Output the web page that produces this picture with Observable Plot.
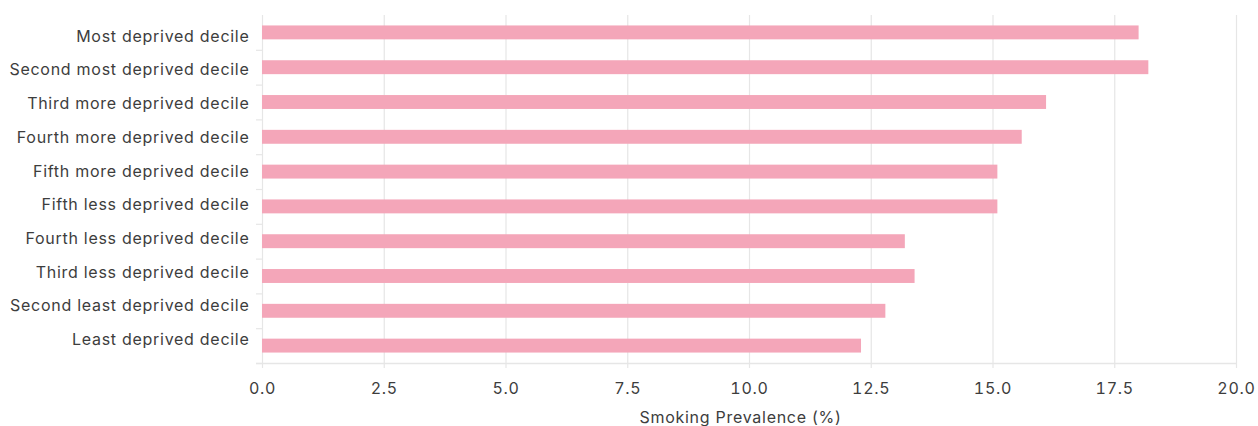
<!DOCTYPE html>
<html>
<head>
<meta charset="utf-8">
<script src="https://cdn.jsdelivr.net/npm/d3@7"></script>
<script src="https://cdn.jsdelivr.net/npm/@observablehq/plot@0.6"></script>
<style>
  html, body { margin: 0; padding: 0; background: #fff; }
  #chart { position: relative; width: 1258px; height: 426px; }
  #chart svg { position: absolute; left: 0; top: 0; }
  svg text { letter-spacing: 0.72px; }
</style>
</head>
<body>
<div id="chart"></div>
<script>
const categories = [
  "Most deprived decile",
  "Second most deprived decile",
  "Third more deprived decile",
  "Fourth more deprived decile",
  "Fifth more deprived decile",
  "Fifth less deprived decile",
  "Fourth less deprived decile",
  "Third less deprived decile",
  "Second least deprived decile",
  "Least deprived decile"
];
const values = [18.0, 18.2, 16.1, 15.6, 15.1, 15.1, 13.2, 13.4, 12.8, 12.3];
const xTicks = [0, 2.5, 5, 7.5, 10, 12.5, 15, 17.5, 20];
const xLabel = "Smoking Prevalence (%)";

const data = categories.map((c, i) => ({category: c, value: values[i]}));

const W = 1258, H = 426, mT = 15, mB = 63, mL = 262, mR = 22;
const step = (H - mT - mB) / categories.length;
const gridColor = "#e6e6e6";
const textColor = "#3d3d3d";
const font = {fontFamily: "Inter, sans-serif", fontSize: "16px", color: textColor, background: "transparent"};

const chart = Plot.plot({
  width: W,
  height: H,
  marginLeft: mL,
  marginRight: mR,
  marginTop: mT,
  marginBottom: mB,
  style: {...font, background: "#fff"},
  x: {domain: [0, 20]},
  y: {domain: categories, paddingInner: 0.6, paddingOuter: 0.3, round: false, label: null, axis: null},
  marks: [
    Plot.gridX(xTicks, {stroke: gridColor, strokeOpacity: 1, strokeWidth: 1.2, insetBottom: -5}),
    Plot.ruleY(categories, {y: d => d, x1: 0, x2: 0, dy: step / 2, insetLeft: -6, stroke: gridColor, strokeWidth: 1.2}),
    Plot.ruleY([categories[categories.length - 1]], {y: d => d, dy: step / 2, insetLeft: -6, stroke: gridColor, strokeWidth: 1.5}),
    Plot.barX(data, {x: "value", y: "category", fill: "#f4a6b9"}),
    Plot.axisX(xTicks, {tickSize: 0, tickPadding: 19, tickFormat: d3.format(".1f"), label: null, fontSize: 16}),
    Plot.text([xLabel], {text: d => d, frameAnchor: "bottom", dy: 59, dx: -9, fontSize: 16, fill: textColor})
  ]
});

// Category labels: drawn on their own point scale (slightly tighter spacing than the bars, as in the reference)
const labels = Plot.plot({
  width: W,
  height: H,
  marginLeft: mL,
  marginRight: mR,
  marginTop: 36,
  marginBottom: 86.5,
  style: font,
  x: {domain: [0, 20], axis: null},
  y: {type: "point", domain: categories, padding: 0, round: false, label: null},
  marks: [
    Plot.axisY({tickSize: 0, tickPadding: 13, fontSize: 16})
  ]
});

const host = document.getElementById("chart");
host.appendChild(chart);
host.appendChild(labels);
</script>
</body>
</html>
